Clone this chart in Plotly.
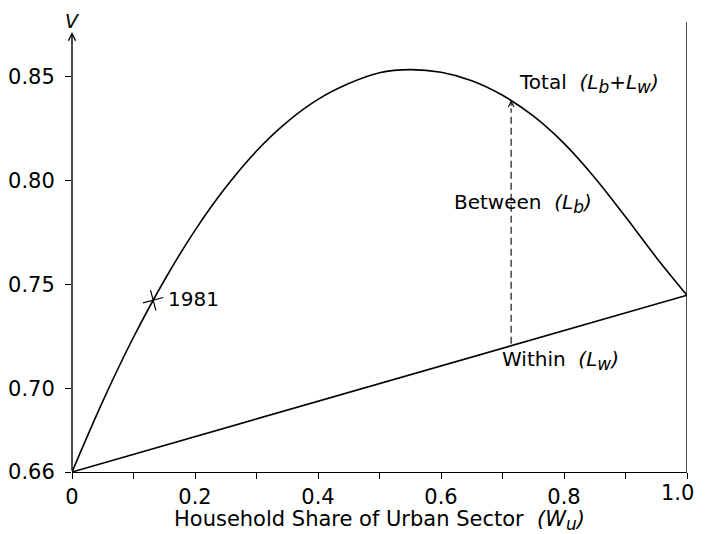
import plotly.graph_objects as go

# Data
share_urban = [0, 0.05, 0.10, 0.15, 0.20, 0.25, 0.30, 0.35, 0.40, 0.45, 0.50,
               0.55, 0.60, 0.65, 0.70, 0.75, 0.80, 0.85, 0.90, 0.95, 1.0]
total_values = [0.66, 0.6940, 0.7248, 0.7521, 0.7762, 0.7969, 0.8144, 0.8284, 0.8392, 0.8468, 0.8520,
                0.8535, 0.8522, 0.8482, 0.8412, 0.8312, 0.8180, 0.8015, 0.7827, 0.7632, 0.745]
within_x = [0, 1.0]
within_values = [0.66, 0.745]
year_label = "1981"
year_x = [0.132]
year_y = [0.7426]
between_x = [0.714, 0.714]
between_y = [0.7217, 0.8388]

x_tickvals = [0, 0.1, 0.2, 0.3, 0.4, 0.5, 0.6, 0.7, 0.8, 0.9, 1.0]
x_ticktext = ["0", "", "0.2", "", "0.4", "", "0.6", "", "0.8", "", ""]
x_last_label = "1.0"
y_tickvals = [0.66, 0.70, 0.75, 0.80, 0.85]
y_ticktext = ["0.66", "0.70", "0.75", "0.80", "0.85"]
y_max = 0.8764

FONT = "DejaVu Sans, Verdana, sans-serif"
SUB = '<sub><span style="font-size:17px">{}</span></sub>'

fig = go.Figure()
fig.add_trace(go.Scatter(x=share_urban, y=total_values, mode="lines",
                         line=dict(color="black", width=1.6, shape="spline", smoothing=1.0),
                         hoverinfo="skip", showlegend=False))
fig.add_trace(go.Scatter(x=within_x, y=within_values, mode="lines",
                         line=dict(color="black", width=1.6),
                         hoverinfo="skip", showlegend=False))
fig.add_trace(go.Scatter(x=between_x, y=[between_y[0], between_y[1] - 0.004], mode="lines",
                         line=dict(color="black", width=1.1, dash="7px,4px"),
                         hoverinfo="skip", showlegend=False))
fig.add_trace(go.Scatter(x=year_x, y=year_y, mode="markers",
                         marker=dict(symbol="cross-thin", size=15, angle=-15,
                                     line=dict(color="black", width=1.2)),
                         hoverinfo="skip", showlegend=False))

# Right vertical line
fig.add_shape(type="line", x0=1.0, x1=1.0, y0=0.66, y1=y_max,
              line=dict(color="black", width=1.4), xref="x", yref="y")

ann = []
# y-axis with arrow
ann.append(dict(x=0, y=0.8716, ax=0, ay=0.66, xref="x", yref="y", axref="x", ayref="y",
                showarrow=True, arrowhead=5, arrowsize=1.0, arrowwidth=1.4, arrowcolor="black", text=""))
# dashed arrow head
ann.append(dict(x=between_x[1], y=between_y[1], ax=0, ay=7, xref="x", yref="y",
                showarrow=True, arrowhead=5, arrowsize=1.0, arrowwidth=1.1, arrowcolor="black", text=""))
ann.append(dict(x=0, y=1.031, xref="x", yref="paper", text="<i>V</i>", showarrow=False,
                xanchor="center", yanchor="top", font=dict(size=19)))
ann.append(dict(x=0.7236, y=0.8468, xref="x", yref="y",
                text="Total  <i>(L" + SUB.format("b") + "+L" + SUB.format("w") + ")</i>",
                showarrow=False, xanchor="left", yanchor="middle", font=dict(size=20)))
ann.append(dict(x=0.618, y=0.789, xref="x", yref="y",
                text="Between  <i>(L" + SUB.format("b") + ")</i>", showarrow=False,
                xanchor="left", yanchor="middle", font=dict(size=20)))
ann.append(dict(x=0.696, y=0.7136, xref="x", yref="y",
                text="Within  <i>(L" + SUB.format("w") + ")</i>", showarrow=False,
                xanchor="left", yanchor="middle", font=dict(size=20)))
ann.append(dict(x=0.153, y=0.7433, xref="x", yref="y", text=year_label, showarrow=False,
                xanchor="left", yanchor="middle", font=dict(size=20)))
# last x tick label, kept inside the page edge
ann.append(dict(x=1.0146, y=-0.046, xref="paper", yref="paper", text=x_last_label, showarrow=False,
                xanchor="right", yanchor="middle", font=dict(size=21)))
# x-axis title
ann.append(dict(x=0.5, y=-0.1067, xref="paper", yref="paper",
                text="Household Share of Urban Sector  <i>(W" + SUB.format("u") + ")</i>",
                showarrow=False, xanchor="center", yanchor="middle", font=dict(size=21)))

fig.update_layout(
    width=697, height=526,
    margin=dict(l=64, r=18, t=14, b=62),
    paper_bgcolor="white", plot_bgcolor="white",
    font=dict(family=FONT, color="black", size=18),
    annotations=ann,
    xaxis=dict(range=[0, 1.0], tickvals=x_tickvals, ticktext=x_ticktext, automargin=False,
               showgrid=False, zeroline=False, showline=True, linecolor="black", linewidth=1.4,
               ticks="outside", ticklen=6, tickwidth=1.2, tickcolor="black",
               tickfont=dict(size=21)),
    yaxis=dict(range=[0.66, y_max], tickvals=y_tickvals, ticktext=y_ticktext, automargin=False,
               showgrid=False, zeroline=False, showline=False,
               ticks="outside", ticklen=6, tickwidth=1.2, tickcolor="black",
               tickfont=dict(size=21), ticklabelstandoff=6),
)
fig.update_traces(cliponaxis=False)

fig.write_html("out.html")
